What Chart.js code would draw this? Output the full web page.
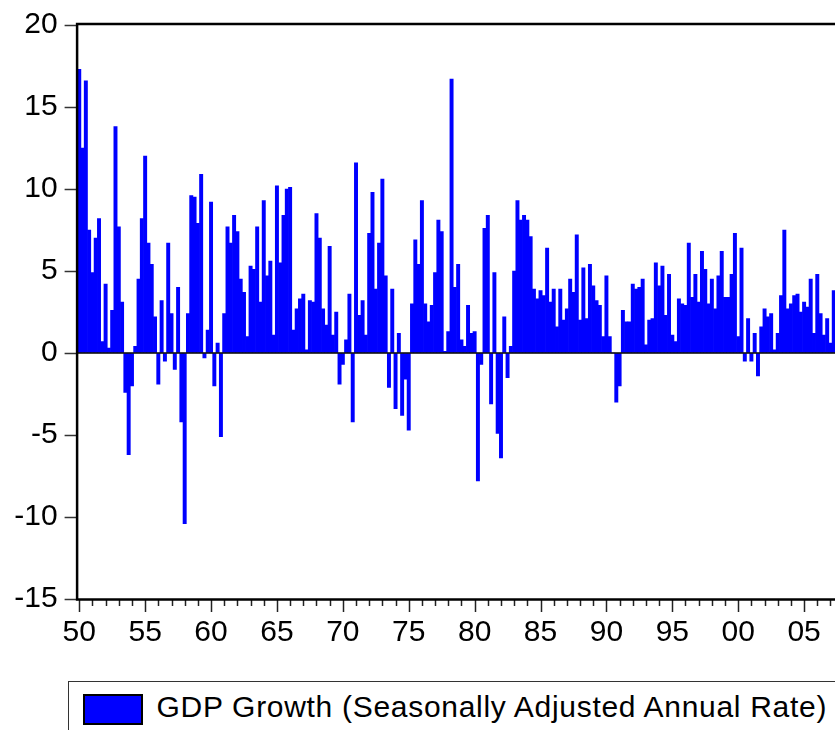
<!DOCTYPE html>
<html>
<head>
<meta charset="utf-8">
<script src="https://cdn.jsdelivr.net/npm/chart.js@4.4.1/dist/chart.umd.min.js"></script>
<style>
	html, body { margin: 0; padding: 0; background: #fff; overflow: hidden; }
	#chart { position: absolute; left: 0; top: 0; }
	#legend {
		position: absolute; left: 68px; top: 681px; width: 900px; height: 80px;
		border: 1.5px solid #333; box-sizing: border-box; white-space: nowrap;
		font-family: Arial, "Liberation Sans", sans-serif; font-size: 30px; color: #000;
	}
	#legend .swatch {
		position: absolute; left: 13.5px; top: 11.5px; width: 56px; height: 27px;
		background: #0000ff; border: 2px solid #000;
	}
	#legend .text { position: absolute; left: 87.5px; top: 7.5px; letter-spacing: 0.7px; }
</style>
</head>
<body>
<canvas id="chart" width="842" height="670"></canvas>
<div id="legend"><span class="swatch"></span><span class="text" id="legendText"></span></div>
<script>
// Quarterly GDP growth, seasonally adjusted annual rate, read off the reference
// picture one bar at a time (four values per year, Q1..Q4).
const gdp1950s = [
	17.3, 12.5, 16.6, 7.5,   4.9, 7.0, 8.2, 0.7,   4.2, 0.3, 2.6, 13.8,
	7.7, 3.1, -2.4, -6.2,    -2.0, 0.4, 4.5, 8.2,  12.0, 6.7, 5.4, 2.2,
	-1.9, 3.2, -0.5, 6.7,    2.4, -1.0, 4.0, -4.2, -10.4, 2.4, 9.6, 9.5,
	7.9, 10.9, -0.3, 1.4,
];
const gdp1960s = [
	9.2, -2.0, 0.6, -5.1,    2.4, 7.7, 6.7, 8.4,   7.4, 4.5, 3.7, 1.0,
	5.3, 5.1, 7.7, 3.1,      9.3, 4.7, 5.6, 1.1,   10.2, 5.5, 8.4, 10.0,
	10.1, 1.4, 2.7, 3.3,     3.6, 0.2, 3.2, 3.1,   8.5, 7.0, 2.7, 1.7,
	6.5, 1.1, 2.5, -1.9,
];
const gdp1970s = [
	-0.7, 0.8, 3.6, -4.2,    11.6, 2.3, 3.2, 1.1,  7.3, 9.8, 3.9, 6.7,
	10.6, 4.7, -2.1, 3.9,    -3.4, 1.2, -3.8, -1.6, -4.7, 3.0, 6.9, 5.4,
	9.3, 3.0, 1.9, 2.9,      4.9, 8.1, 7.4, 0.1,   1.3, 16.7, 4.0, 5.4,
	0.8, 0.4, 2.9, 1.2,
];
const gdp1980s = [
	1.3, -7.8, -0.7, 7.6,    8.4, -3.1, 4.9, -4.9, -6.4, 2.2, -1.5, 0.4,
	5.0, 9.3, 8.1, 8.4,      8.1, 7.1, 3.9, 3.3,   3.8, 3.5, 6.4, 3.1,
	3.9, 1.6, 3.9, 2.0,      2.7, 4.5, 3.7, 7.2,   2.0, 5.2, 2.1, 5.4,
	4.1, 3.2, 2.9, 1.0,
];
const gdp1990s = [
	4.7, 1.0, 0.0, -3.0,     -2.0, 2.6, 1.9, 1.9,  4.2, 3.9, 4.0, 4.5,
	0.5, 2.0, 2.1, 5.5,      4.1, 5.3, 2.3, 4.8,   1.1, 0.7, 3.3, 3.0,
	2.9, 6.7, 3.4, 4.8,      3.1, 6.2, 5.1, 3.0,   4.5, 2.7, 4.7, 6.2,
	3.4, 3.4, 4.8, 7.3,
];
const gdp2000s = [
	1.0, 6.4, -0.5, 2.1,     -0.5, 1.2, -1.4, 1.6, 2.7, 2.2, 2.4, 0.2,
	1.2, 3.5, 7.5, 2.7,      3.0, 3.5, 3.6, 2.5,   3.1, 2.8, 4.5, 1.2,
	4.8, 2.4, 1.1, 2.1,      0.6, 3.8, null, null,
];

const firstYear = 1950;
const lastYear = 2007;
const tickYears = [1950, 1955, 1960, 1965, 1970, 1975, 1980, 1985, 1990, 1995, 2000, 2005];
const tickLabels = ['50', '55', '60', '65', '70', '75', '80', '85', '90', '95', '00', '05'];
const yTicks = [20, 15, 10, 5, 0, -5, -10, -15];
const seriesLabel = 'GDP Growth (Seasonally Adjusted Annual Rate)';

const values = [...gdp1950s, ...gdp1960s, ...gdp1970s, ...gdp1980s, ...gdp1990s, ...gdp2000s];
const categories = [];
for (let y = firstYear; y <= lastYear; y++) {
	for (let q = 1; q <= 4; q++) {
		categories.push(`${y}Q${q}`);
	}
}

const FONT = 'Arial, "Liberation Sans", sans-serif';

// Frame, zero line and the yearly tick marks on the date axis (longer every 5 years).
const framePlugin = {
	id: 'frame',
	afterDatasetsDraw(chart) {
		const { ctx, chartArea: a, scales } = chart;
		const x = scales.x;
		const y0 = scales.y.getPixelForValue(0);
		ctx.save();
		ctx.strokeStyle = '#000';
		ctx.lineWidth = 1.6;
		ctx.beginPath();
		ctx.moveTo(a.left, y0);
		ctx.lineTo(a.right, y0);
		ctx.stroke();

		ctx.lineWidth = 1.5;
		ctx.strokeStyle = '#222';
		categories.forEach((c, i) => {
			if (!c.endsWith('Q1')) {
				return;
			}
			const year = Number(c.slice(0, 4));
			const px = Math.round(x.getPixelForValue(i)) + 0.5;
			const len = year % 5 === 0 ? 13 : 7;
			ctx.beginPath();
			ctx.moveTo(px, a.bottom);
			ctx.lineTo(px, a.bottom + len);
			ctx.stroke();
		});

		ctx.lineWidth = 2.5;
		ctx.strokeStyle = '#000';
		ctx.strokeRect(a.left - 0.5, a.top - 1, a.right - a.left + 2, a.bottom - a.top + 1.5);
		ctx.restore();
	},
};

document.getElementById('legendText').textContent = seriesLabel;

new Chart(document.getElementById('chart'), {
	type: 'bar',
	data: {
		labels: categories,
		datasets: [{
			label: seriesLabel,
			data: values,
			backgroundColor: '#0000ff',
			borderWidth: 0,
			barPercentage: 1,
			categoryPercentage: 1,
		}],
	},
	options: {
		responsive: false,
		animation: false,
		events: [],
		layout: { padding: { top: 25, right: 0, bottom: 0, left: 0 } },
		plugins: { legend: { display: false }, tooltip: { enabled: false } },
		scales: {
			x: {
				type: 'category',
				offset: true,
				// tick marks are drawn by the plugin; the invisible ticks here only push the labels down
				grid: { drawOnChartArea: false, drawTicks: true, tickLength: 16, tickColor: 'rgba(0,0,0,0)' },
				border: { display: false },
				afterFit: (scale) => { scale.height = 71; },
				ticks: {
					autoSkip: false,
					maxRotation: 0,
					minRotation: 0,
					padding: 0,
					color: '#000',
					font: { family: FONT, size: 30 },
					callback: (val, i) => {
						const c = categories[i];
						if (!c.endsWith('Q1')) {
							return '';
						}
						const k = tickYears.indexOf(Number(c.slice(0, 4)));
						return k === -1 ? '' : tickLabels[k];
					},
				},
			},
			y: {
				min: -15,
				max: 20,
				afterFit: (scale) => { scale.width = 77.6; },
				afterBuildTicks: (scale) => { scale.ticks = yTicks.map((v) => ({ value: v })); },
				grid: { drawOnChartArea: false, drawTicks: true, tickLength: 13, tickColor: '#333', tickWidth: 1.5 },
				border: { display: false },
				ticks: {
					padding: 7,
					color: '#000',
					font: { family: FONT, size: 30 },
				},
			},
		},
	},
	plugins: [framePlugin],
});
</script>
</body>
</html>
